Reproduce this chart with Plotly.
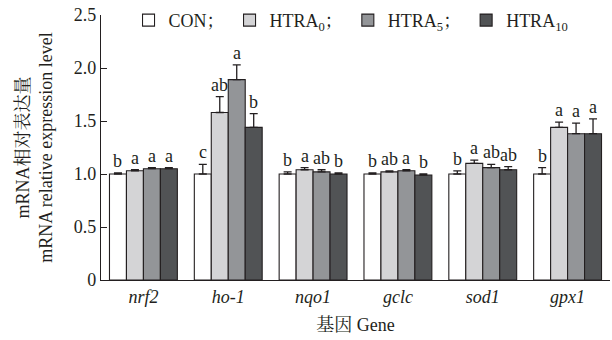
import plotly.graph_objects as go

genes = ["nrf2", "ho-1", "nqo1", "gclc", "sod1", "gpx1"]
series_names = ["CON；", "HTRA<sub>0</sub>；", "HTRA<sub>5</sub>；", "HTRA<sub>10</sub>"]
con = [1.00, 1.00, 1.00, 1.00, 1.00, 1.00]
htra0 = [1.03, 1.58, 1.04, 1.02, 1.10, 1.44]
htra5 = [1.05, 1.89, 1.02, 1.03, 1.06, 1.38]
htra10 = [1.05, 1.44, 1.00, 0.99, 1.04, 1.38]
con_err = [0.01, 0.09, 0.02, 0.01, 0.03, 0.06]
htra0_err = [0.01, 0.15, 0.02, 0.01, 0.03, 0.05]
htra5_err = [0.01, 0.14, 0.02, 0.01, 0.03, 0.10]
htra10_err = [0.01, 0.13, 0.01, 0.01, 0.03, 0.14]
con_sig = ["b", "c", "b", "b", "b", "b"]
htra0_sig = ["a", "ab", "a", "ab", "a", "a"]
htra5_sig = ["a", "a", "ab", "a", "ab", "a"]
htra10_sig = ["a", "b", "b", "b", "ab", "a"]
colors = ["#ffffff", "#d4d4d6", "#939598", "#515355"]

values = [con, htra0, htra5, htra10]
errors = [con_err, htra0_err, htra5_err, htra10_err]
sigs = [con_sig, htra0_sig, htra5_sig, htra10_sig]

FONT = "Times New Roman, Noto Serif CJK SC, Noto Sans CJK SC"
INK = "#231f20"
fig = go.Figure()
for name, v, e, c in zip(series_names, values, errors, colors):
    fig.add_trace(go.Bar(
        x=genes, y=v, name=name,
        marker=dict(color=c, line=dict(color=INK, width=1.1)),
        error_y=dict(type="data", array=e, arrayminus=[0] * len(e), symmetric=False,
                     color=INK, thickness=1.3, width=4),
    ))

offsets = [-0.3, -0.1, 0.1, 0.3]
for k in range(4):
    for i in range(len(genes)):
        fig.add_annotation(x=i + offsets[k], y=values[k][i] + errors[k][i],
                           text=sigs[k][i], showarrow=False, yanchor="bottom",
                           yshift=0, font=dict(size=18, color=INK, family=FONT))

fig.update_layout(
    width=612, height=340,
    margin=dict(l=101, r=2, t=15, b=60, autoexpand=False),
    barmode="group", bargap=0.2, bargroupgap=0,
    plot_bgcolor="white", paper_bgcolor="white",
    font=dict(family=FONT, size=17, color=INK),
    showlegend=True,
    legend=dict(orientation="h", xref="container", yref="container",
                x=0.21, y=0.94, xanchor="left", yanchor="middle",
                font=dict(size=18, family=FONT, color=INK), itemwidth=30,
                bgcolor="rgba(0,0,0,0)", traceorder="normal"),
    xaxis=dict(showline=True, linecolor=INK, linewidth=1.2, ticks="", automargin=False,
               tickfont=dict(size=18, family=FONT),
               ticktext=["<i>" + g + "</i>" for g in genes], tickvals=genes,
               title=dict(text="基因 Gene", font=dict(size=18, family=FONT), standoff=12)),
    yaxis=dict(range=[0, 2.5], tickvals=[0, 0.5, 1.0, 1.5, 2.0, 2.5],
               ticktext=["0", "0.5", "1.0", "1.5", "2.0", "2.5"], automargin=False,
               showline=True, linecolor=INK, linewidth=1.2,
               ticks="inside", ticklen=6, tickcolor=INK, showgrid=False,
               zeroline=False, tickfont=dict(size=18, family=FONT),
               title=dict(text="mRNA相对表达量<br>mRNA relative expression level",
                          font=dict(size=18, family=FONT), standoff=16)),
)

fig.write_html("out.html", config={"displayModeBar": False},
               post_script="document.body.style.margin='0';")
